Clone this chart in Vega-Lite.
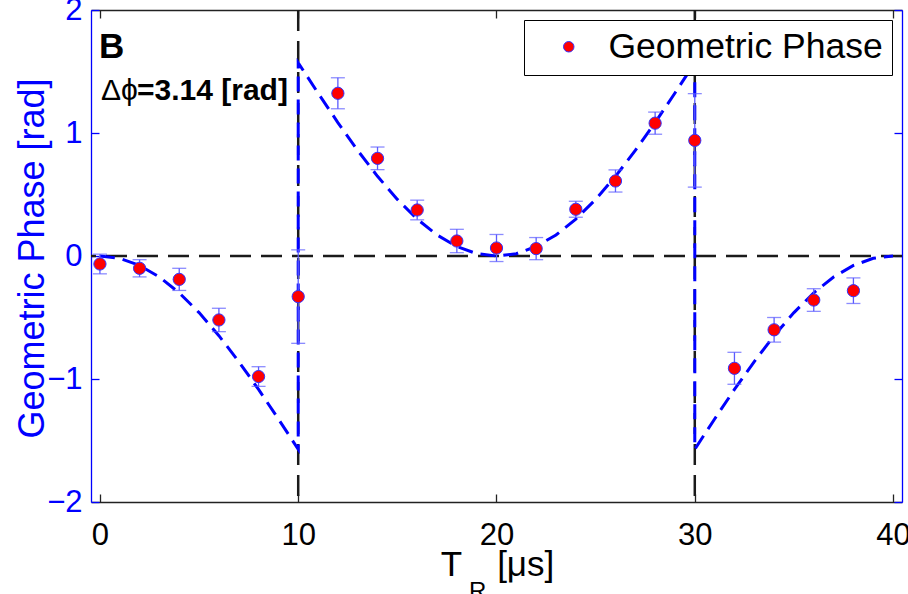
{
  "$schema": "https://vega.github.io/schema/vega-lite/v6.json",
  "width": 811,
  "height": 492,
  "autosize": {"type": "none"},
  "padding": {"left": 91, "top": 10, "right": 6, "bottom": 92},
  "background": "white",
  "config": {
    "view": {"stroke": null},
    "font": "Liberation Sans",
    "axis": {"grid": false, "labelFont": "Liberation Sans", "titleFont": "Liberation Sans"}
  },
  "datasets": {
    "one": [{}],
    "points": [
      {"t": 0, "phase": -0.065, "err": 0.08, "series": "Geometric Phase"},
      {"t": 2, "phase": -0.10, "err": 0.07, "series": "Geometric Phase"},
      {"t": 4, "phase": -0.19, "err": 0.09, "series": "Geometric Phase"},
      {"t": 6, "phase": -0.52, "err": 0.095, "series": "Geometric Phase"},
      {"t": 8, "phase": -0.98, "err": 0.08, "series": "Geometric Phase"},
      {"t": 10, "phase": -0.33, "err": 0.38, "series": "Geometric Phase"},
      {"t": 12, "phase": 1.323, "err": 0.126, "series": "Geometric Phase"},
      {"t": 14, "phase": 0.794, "err": 0.092, "series": "Geometric Phase"},
      {"t": 16, "phase": 0.374, "err": 0.08, "series": "Geometric Phase"},
      {"t": 18, "phase": 0.122, "err": 0.095, "series": "Geometric Phase"},
      {"t": 20, "phase": 0.065, "err": 0.11, "series": "Geometric Phase"},
      {"t": 22, "phase": 0.06, "err": 0.09, "series": "Geometric Phase"},
      {"t": 24, "phase": 0.38, "err": 0.065, "series": "Geometric Phase"},
      {"t": 26, "phase": 0.61, "err": 0.09, "series": "Geometric Phase"},
      {"t": 28, "phase": 1.08, "err": 0.09, "series": "Geometric Phase"},
      {"t": 30, "phase": 0.94, "err": 0.38, "series": "Geometric Phase"},
      {"t": 32, "phase": -0.913, "err": 0.13, "series": "Geometric Phase"},
      {"t": 34, "phase": -0.60, "err": 0.10, "series": "Geometric Phase"},
      {"t": 36, "phase": -0.358, "err": 0.092, "series": "Geometric Phase"},
      {"t": 38, "phase": -0.282, "err": 0.104, "series": "Geometric Phase"}
    ],
    "fit": [
      {"t": 0, "phase": 0}, {"t": 1, "phase": -0.019}, {"t": 2, "phase": -0.077}, {"t": 3, "phase": -0.171},
      {"t": 4, "phase": -0.300}, {"t": 5, "phase": -0.460}, {"t": 6, "phase": -0.648}, {"t": 7, "phase": -0.858},
      {"t": 8, "phase": -1.085}, {"t": 9, "phase": -1.325}, {"t": 10, "phase": -1.571},
      {"t": 10, "phase": 1.571}, {"t": 11, "phase": 1.325}, {"t": 12, "phase": 1.085}, {"t": 13, "phase": 0.858},
      {"t": 14, "phase": 0.648}, {"t": 15, "phase": 0.460}, {"t": 16, "phase": 0.300}, {"t": 17, "phase": 0.171},
      {"t": 18, "phase": 0.077}, {"t": 19, "phase": 0.019}, {"t": 20, "phase": 0}, {"t": 21, "phase": 0.019},
      {"t": 22, "phase": 0.077}, {"t": 23, "phase": 0.171}, {"t": 24, "phase": 0.300}, {"t": 25, "phase": 0.460},
      {"t": 26, "phase": 0.648}, {"t": 27, "phase": 0.858}, {"t": 28, "phase": 1.085}, {"t": 29, "phase": 1.325},
      {"t": 30, "phase": 1.571},
      {"t": 30, "phase": -1.571}, {"t": 31, "phase": -1.325}, {"t": 32, "phase": -1.085}, {"t": 33, "phase": -0.858},
      {"t": 34, "phase": -0.648}, {"t": 35, "phase": -0.460}, {"t": 36, "phase": -0.300}, {"t": 37, "phase": -0.171},
      {"t": 38, "phase": -0.077}, {"t": 39, "phase": -0.019}, {"t": 40, "phase": 0}
    ]
  },
  "resolve": {"axis": {"x": "independent", "y": "independent"}},
  "layer": [
    {
      "data": {"name": "one"},
      "mark": {"type": "rule", "color": "#1a1a1a", "strokeWidth": 2.5, "strokeDash": [21, 10]},
      "encoding": {
        "y": {"datum": 0, "type": "quantitative", "scale": {"domain": [-2, 2], "nice": false, "zero": false}, "axis": null}
      }
    },
    {
      "data": {"name": "one"},
      "mark": {"type": "rule", "color": "#1a1a1a", "strokeWidth": 2.5, "strokeDash": [21, 10]},
      "encoding": {
        "x": {"datum": 10, "type": "quantitative", "scale": {"domain": [-0.45, 40.45], "nice": false, "zero": false}, "axis": null}
      }
    },
    {
      "data": {"name": "one"},
      "mark": {"type": "rule", "color": "#1a1a1a", "strokeWidth": 2.5, "strokeDash": [21, 10]},
      "encoding": {
        "x": {"datum": 30, "type": "quantitative", "scale": {"domain": [-0.45, 40.45], "nice": false, "zero": false}, "axis": null}
      }
    },
    {
      "data": {"name": "fit"},
      "mark": {"type": "line", "color": "#0000ff", "strokeWidth": 3, "strokeDash": [15, 8]},
      "encoding": {
        "x": {"field": "t", "type": "quantitative", "scale": {"domain": [-0.45, 40.45], "nice": false, "zero": false}, "axis": null},
        "y": {"field": "phase", "type": "quantitative", "scale": {"domain": [-2, 2], "nice": false, "zero": false}, "axis": null},
        "order": {"value": null}
      }
    },
    {
      "data": {"name": "points"},
      "mark": {"type": "errorbar", "color": "#5a5aff", "thickness": 1.3, "ticks": {"size": 14, "thickness": 1.3}},
      "encoding": {
        "x": {"field": "t", "type": "quantitative", "scale": {"domain": [-0.45, 40.45], "nice": false, "zero": false},
          "axis": {"orient": "top", "values": [0, 10, 20, 30, 40], "labels": false, "title": null, "tickSize": -8, "domainColor": "#222222", "tickColor": "#222222", "domainWidth": 1.3, "tickWidth": 1.3}},
        "y": {"field": "phase", "type": "quantitative", "scale": {"domain": [-2, 2], "nice": false, "zero": false},
          "axis": {"orient": "right", "values": [-2, -1, 0, 1, 2], "labels": false, "title": null, "tickSize": -8, "domainColor": "#0000ff", "tickColor": "#0000ff", "domainWidth": 1.3, "tickWidth": 1.3}},
        "yError": {"field": "err"}
      }
    },
    {
      "data": {"name": "points"},
      "mark": {"type": "point", "filled": true, "size": 150, "stroke": "#3333ff", "strokeWidth": 1, "opacity": 1},
      "encoding": {
        "x": {"field": "t", "type": "quantitative", "scale": {"domain": [-0.45, 40.45], "nice": false, "zero": false},
          "axis": {"orient": "bottom", "values": [0, 10, 20, 30, 40], "format": "d", "tickSize": -8, "labelPadding": 26,
            "labelFontSize": 31, "labelColor": "black", "labelFlush": false, "labelOverlap": false,
            "domainColor": "#222222", "tickColor": "#222222", "domainWidth": 1.3, "tickWidth": 1.3,
            "title": "T\u2002\u2002[μs]", "titleFontSize": 35, "titleFontWeight": "normal", "titleColor": "black",
            "titleX": 406, "titleY": 73, "titleAlign": "center", "titleBaseline": "alphabetic"}},
        "y": {"field": "phase", "type": "quantitative", "scale": {"domain": [-2, 2], "nice": false, "zero": false},
          "axis": {"orient": "left", "values": [-2, -1, 0, 1, 2], "format": "d", "tickSize": -8, "labelPadding": 17,
            "labelFontSize": 31, "labelColor": "#0000ff", "labelFlush": false, "labelOverlap": false,
            "domainColor": "#0000ff", "tickColor": "#0000ff", "domainWidth": 1.3, "tickWidth": 1.3,
            "title": "Geometric Phase [rad]", "titleFontSize": 36, "titleFontWeight": "normal", "titleColor": "#0000ff",
            "titleX": -48, "titleY": 248, "titleAngle": -90, "titleAlign": "center", "titleBaseline": "alphabetic"}},
        "color": {"field": "series", "type": "nominal", "scale": {"domain": ["Geometric Phase"], "range": ["#ff0000"]},
          "legend": {"title": null, "orient": "top-right", "offset": 10, "padding": 9, "strokeColor": "black", "fillColor": "white",
            "labelFontSize": 35.5, "labelFont": "Liberation Sans", "labelColor": "black", "labelLimit": 0, "symbolSize": 110, "symbolType": "circle",
            "symbolStrokeColor": "#3333ff", "symbolStrokeWidth": 1, "symbolFillColor": "#ff0000", "symbolOffset": 18, "labelOffset": 22, "cornerRadius": 0}}
      }
    },
    {
      "data": {"name": "one"},
      "mark": {"type": "text", "text": "B", "font": "Liberation Sans", "fontSize": 35, "fontWeight": "bold", "align": "left", "baseline": "alphabetic", "color": "black"},
      "encoding": {
        "x": {"datum": -0.047, "type": "quantitative", "scale": {"domain": [-0.45, 40.45], "nice": false, "zero": false}, "axis": null},
        "y": {"datum": 1.61, "type": "quantitative", "scale": {"domain": [-2, 2], "nice": false, "zero": false}, "axis": null}
      }
    },
    {
      "data": {"name": "one"},
      "mark": {"type": "text", "text": "Δϕ", "font": "Liberation Sans", "fontSize": 30, "fontWeight": "normal", "align": "left", "baseline": "alphabetic", "color": "black"},
      "encoding": {
        "x": {"datum": 0.054, "type": "quantitative", "scale": {"domain": [-0.45, 40.45], "nice": false, "zero": false}, "axis": null},
        "y": {"datum": 1.268, "type": "quantitative", "scale": {"domain": [-2, 2], "nice": false, "zero": false}, "axis": null}
      }
    },
    {
      "data": {"name": "one"},
      "mark": {"type": "text", "text": "=3.14 [rad]", "font": "Liberation Sans", "fontSize": 30, "fontWeight": "bold", "align": "left", "baseline": "alphabetic", "color": "black", "dx": 36},
      "encoding": {
        "x": {"datum": 0.054, "type": "quantitative", "scale": {"domain": [-0.45, 40.45], "nice": false, "zero": false}, "axis": null},
        "y": {"datum": 1.268, "type": "quantitative", "scale": {"domain": [-2, 2], "nice": false, "zero": false}, "axis": null}
      }
    },
    {
      "data": {"name": "one"},
      "mark": {"type": "text", "text": "R", "font": "Liberation Sans", "fontSize": 24, "align": "center", "baseline": "alphabetic", "color": "black"},
      "encoding": {
        "x": {"datum": 19.05, "type": "quantitative", "scale": {"domain": [-0.45, 40.45], "nice": false, "zero": false}, "axis": null},
        "y": {"datum": -2.79, "type": "quantitative", "scale": {"domain": [-2, 2], "nice": false, "zero": false}, "axis": null}
      }
    }
  ]
}
